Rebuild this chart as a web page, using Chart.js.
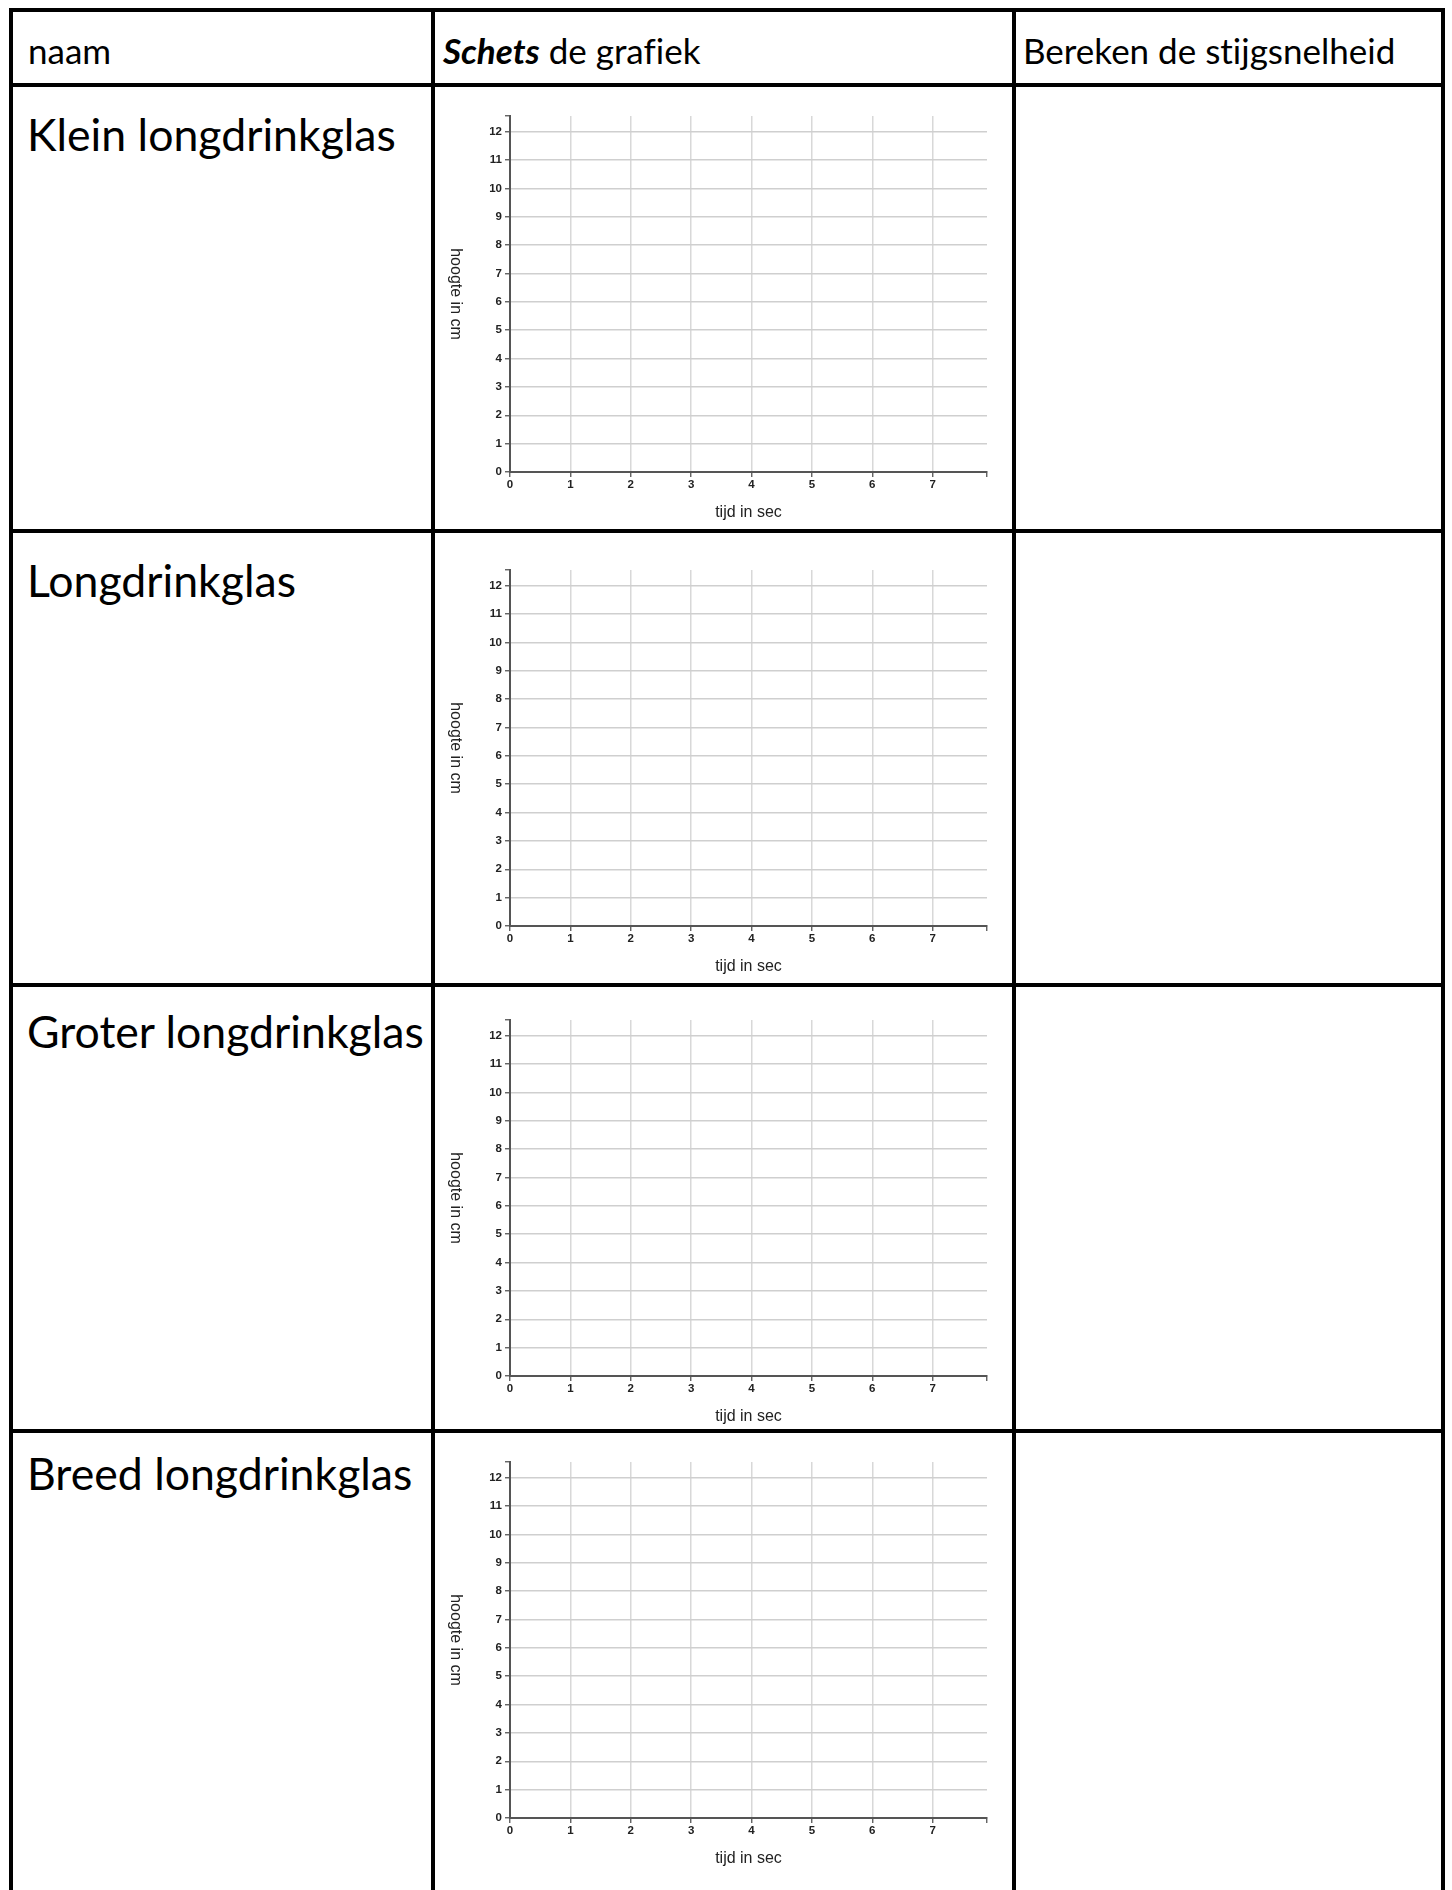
<!DOCTYPE html>
<html>
<head>
<meta charset="utf-8">
<title>Schets de grafiek</title>
<script src="https://cdn.jsdelivr.net/npm/chart.js@4.4.0/dist/chart.umd.min.js"></script>
<style>
  html, body { margin: 0; padding: 0; background: #fff; }
  body { width: 1452px; height: 1890px; position: relative; overflow: hidden;
         font-family: Lato, "Open Sans", sans-serif; color: #000; }
  .lijn { position: absolute; background: #000; }
  .tekst { position: absolute; white-space: nowrap; line-height: 1.2;
           font-variant-ligatures: none; font-feature-settings: "liga" 0, "clig" 0; }
  canvas { position: absolute; }
</style>
</head>
<body>
<script>
// data
const glazen = ["Klein longdrinkglas", "Longdrinkglas", "Groter longdrinkglas", "Breed longdrinkglas"];
const kolomKoppen = ["naam", "<b><i>Schets</i></b> de grafiek", "Bereken de stijgsnelheid"];
const tijdTicks = [0, 1, 2, 3, 4, 5, 6, 7];
const hoogteTicks = [0, 1, 2, 3, 4, 5, 6, 7, 8, 9, 10, 11, 12];
const tijdMax = 7.9;
const hoogteMax = 12.55;
const xTitel = "tijd in sec";
const yTitel = "hoogte in cm";

// layout of the table
const kolomLijnen = [9, 431, 1012, 1441];
const rijLijnen = [8, 83, 529, 983, 1429];
const kopX = [28, 443, 1023];
const kopBasis = 64, kopGrootte = 35;
const rijBasis = [151, 597, 1048, 1490], rijGrootte = 44.6;
const asBoven = [115.7, 570, 1020, 1462.3];

function lijn(x, y, w, h) {
  const d = document.createElement("div");
  d.className = "lijn";
  d.style.left = x + "px"; d.style.top = y + "px";
  d.style.width = w + "px"; d.style.height = h + "px";
  document.body.appendChild(d);
}
function tekst(html, x, basis, size) {
  const d = document.createElement("div");
  d.className = "tekst";
  d.innerHTML = html;
  d.style.left = x + "px";
  d.style.top = (basis - 0.987 * size) + "px";
  d.style.fontSize = size + "px";
  document.body.appendChild(d);
}

kolomLijnen.forEach(x => lijn(x, 8, 4, 1890));
rijLijnen.forEach(y => lijn(9, y, 1436, 4));
kolomKoppen.forEach((k, i) => tekst(k, kopX[i], kopBasis, kopGrootte));
glazen.forEach((g, i) => tekst(g, 27, rijBasis[i], rijGrootte));

const titelFont = '"Liberation Sans", Arial, sans-serif';

// y title reads top to bottom, so draw it ourselves
const yTitelPlugin = {
  id: "yTitel",
  afterDraw(chart) {
    const { ctx, chartArea } = chart;
    ctx.save();
    ctx.translate(20, (chartArea.top + chartArea.bottom) / 2);
    ctx.rotate(Math.PI / 2);
    ctx.font = "16px " + titelFont;
    ctx.fillStyle = "#222";
    ctx.textAlign = "center";
    ctx.textBaseline = "middle";
    ctx.fillText(yTitel, 0, 0);
    ctx.restore();
  }
};

const tickFont = { family: titelFont, size: 11.5, weight: "bold" };

function maakGrafiek(top) {
  const canvas = document.createElement("canvas");
  canvas.width = 577; canvas.height = 430;
  canvas.style.left = "435px"; canvas.style.top = (top - 12) + "px";
  canvas.style.width = "577px"; canvas.style.height = "430px";
  document.body.appendChild(canvas);

  return new Chart(canvas.getContext("2d"), {
    type: "scatter",
    data: { datasets: [{ data: [], showLine: true, borderColor: "#000" }] },
    options: {
      responsive: false,
      animation: false,
      events: [],
      layout: { padding: { top: 12, right: 25, left: 0, bottom: 0 } },
      plugins: { legend: { display: false }, tooltip: { enabled: false } },
      scales: {
        x: {
          type: "linear", min: 0, max: tijdMax,
          afterBuildTicks: s => { s.ticks = tijdTicks.concat([tijdMax]).map(v => ({ value: v })); },
          afterFit: s => { s.height = 62; },
          ticks: {
            autoSkip: false, maxRotation: 0, padding: 1, color: "#222", font: tickFont,
            callback: v => tijdTicks.includes(v) ? v : ""
          },
          grid: {
            color: c => (c.tick && c.tick.value > 0 && c.tick.value < tijdMax) ? "#d8d8d8" : "rgba(0,0,0,0)",
            lineWidth: 1.5, tickColor: "#555", tickLength: 5, tickWidth: 1.3
          },
          border: { color: "#555", width: 2 },
          title: {
            display: true, text: xTitel, color: "#222",
            font: { family: titelFont, size: 16 },
            padding: { top: 0, bottom: 12 }
          }
        },
        y: {
          type: "linear", min: 0, max: hoogteMax,
          afterBuildTicks: s => { s.ticks = hoogteTicks.concat([hoogteMax]).map(v => ({ value: v })); },
          afterFit: s => { s.width = 75; },
          ticks: {
            autoSkip: false, padding: 3, color: "#222", font: tickFont,
            callback: v => hoogteTicks.includes(v) ? v : ""
          },
          grid: {
            color: c => (c.tick && c.tick.value > 0 && c.tick.value < hoogteMax) ? "#cfcfcf" : "rgba(0,0,0,0)",
            lineWidth: 1.5, tickColor: "#555", tickLength: 5, tickWidth: 1.3
          },
          border: { color: "#555", width: 2 },
          title: { display: false }
        }
      }
    },
    plugins: [yTitelPlugin]
  });
}

asBoven.forEach(t => maakGrafiek(t));
</script>
</body>
</html>
